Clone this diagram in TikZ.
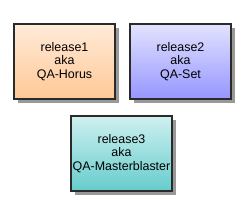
\documentclass[tikz,border=0pt]{standalone}
\usepackage{fontspec}
\setmainfont{Liberation Sans}
\usetikzlibrary{shadows}
\definecolor{peachtop}{HTML}{FFEBD8}
\definecolor{peachbot}{HTML}{FFC896}
\definecolor{lilactop}{HTML}{E2E2FF}
\definecolor{lilacbot}{HTML}{9696FF}
\definecolor{tealtop}{HTML}{CFF0F0}
\definecolor{tealbot}{HTML}{66CCCC}
\definecolor{boxline}{HTML}{2A2A2A}
\begin{document}
\begin{tikzpicture}[x=1bp, y=-1bp,
    relbox/.style={minimum width=101bp, minimum height=75bp,
      align=center, inner sep=0pt, font=\fontsize{12.5}{13.5}\selectfont,
      drop shadow={shadow xshift=4bp, shadow yshift=-4bp, fill=black!40, opacity=1},
      postaction={draw=boxline, line width=2.2bp}}]
    \useasboundingbox (0,0) rectangle (251,211);
    % Releases
    \node[relbox, top color=peachtop, bottom color=peachbot] (release1) at (64.5,61.5) {release1\\aka\\QA-Horus};
    \node[relbox, top color=lilactop, bottom color=lilacbot] (release2) at (180.5,61.5) {release2\\aka\\QA-Set};
    \node[relbox, top color=tealtop, bottom color=tealbot] (release3) at (121.5,153.5) {release3\\aka\\QA-Masterblaster};
\end{tikzpicture}
\end{document}
